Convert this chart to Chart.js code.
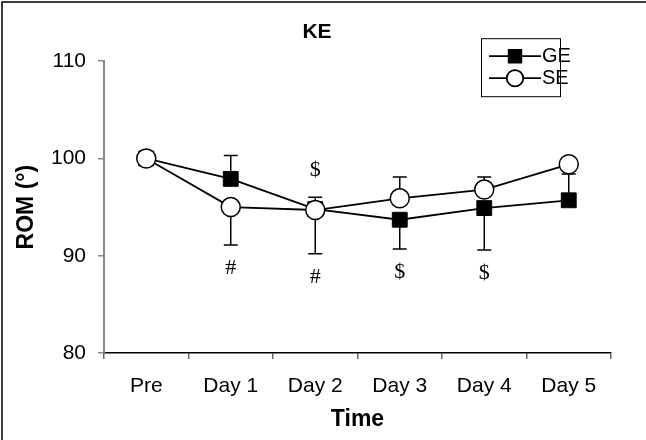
<!DOCTYPE html>
<html>
<head>
<meta charset="utf-8">
<script src="https://cdn.jsdelivr.net/npm/chart.js@4.4.0/dist/chart.umd.min.js"></script>
<style>
html, body { margin: 0; padding: 0; background: #fff; }
#wrap { width: 646px; height: 440px; }
</style>
</head>
<body>
<div id="wrap"><canvas id="romChart"></canvas></div>
<script>
// KE range of motion over time, GE vs SE
const timePoints = ['Pre', 'Day 1', 'Day 2', 'Day 3', 'Day 4', 'Day 5'];
const geMean = [100, 97.9, 94.8, 93.7, 94.9, 95.7];
const seMean = [100, 95.0, 94.7, 95.9, 96.8, 99.4];
// one-sided error bars as they appear (up / down)
const geErrUp = [0, 2.4, 1.2, 0, 0, 2.7];
const geErrDown = [0, 0, 0, 3.0, 4.3, 0];
const seErrUp = [0, 0, 0, 2.2, 1.3, 0];
const seErrDown = [0, 3.9, 4.5, 0, 0, 0];
const yTicks = [80, 90, 100, 110];
// significance marks
const marksBelow = ['', '#', '#', '$', '$', ''];
const marksAbove = ['', '', '$', '', '', ''];

const SANS = "'Liberation Sans', Arial, sans-serif";
const SERIF = "'Liberation Serif', 'Times New Roman', serif";
Chart.defaults.font.family = SANS;
Chart.defaults.color = '#000';

// error bars drawn under the lines and markers
const errorBars = {
  id: 'errorBars',
  beforeDatasetsDraw(chart) {
    const {ctx, scales: {x, y}} = chart;
    const sets = [[geMean, geErrUp, geErrDown], [seMean, seErrUp, seErrDown]];
    ctx.save();
    ctx.strokeStyle = '#000';
    ctx.lineWidth = 1.5;
    sets.forEach(([m, up, down]) => {
      m.forEach((v, i) => {
        const px = x.getPixelForValue(i);
        [[up[i], 1], [down[i], -1]].forEach(([e, dir]) => {
          if (!e) return;
          const y0 = y.getPixelForValue(v);
          const y1 = y.getPixelForValue(v + dir * e);
          ctx.beginPath();
          ctx.moveTo(px, y0); ctx.lineTo(px, y1);
          ctx.moveTo(px - 7, y1); ctx.lineTo(px + 7, y1);
          ctx.stroke();
        });
      });
    });
    ctx.restore();
  }
};

// # and $ marks, legend box, outer frame
const extras = {
  id: 'extras',
  afterDraw(chart) {
    const {ctx, scales: {x, y}, chartArea} = chart;
    ctx.save();
    ctx.fillStyle = '#000';
    ctx.font = '22px ' + SERIF;
    ctx.textAlign = 'center';
    ctx.textBaseline = 'alphabetic';
    timePoints.forEach((t, i) => {
      const px = x.getPixelForValue(i);
      const low = Math.min(geMean[i] - geErrDown[i], seMean[i] - seErrDown[i]);
      const high = Math.max(geMean[i] + geErrUp[i], seMean[i] + seErrUp[i]);
      if (marksBelow[i]) ctx.fillText(marksBelow[i], px, y.getPixelForValue(low) + 29);
      if (marksAbove[i]) ctx.fillText(marksAbove[i], px, y.getPixelForValue(high) - 21);
    });

    // legend
    const bx = chartArea.right - 130, by = chartArea.top - 23, bw = 79, bh = 58;
    ctx.fillStyle = '#fff';
    ctx.fillRect(bx, by, bw, bh);
    ctx.strokeStyle = '#000';
    ctx.lineWidth = 1;
    ctx.strokeRect(bx + 0.5, by + 0.5, bw, bh);
    chart.data.datasets.forEach((ds, k) => {
      const ry = by + 18 + k * 22;
      ctx.beginPath();
      ctx.strokeStyle = '#000';
      ctx.lineWidth = ds.borderWidth;
      ctx.moveTo(bx + 8, ry); ctx.lineTo(bx + 60, ry);
      ctx.stroke();
      Chart.helpers.drawPoint(ctx, {
        pointStyle: ds.pointStyle,
        radius: ds.pointRadius * 0.85,
        borderWidth: ds.pointBorderWidth
      }, bx + 34, ry);
      ctx.fillStyle = ds.pointBackgroundColor;
      ctx.strokeStyle = ds.pointBorderColor;
      ctx.lineWidth = ds.pointBorderWidth;
      ctx.fill();
      ctx.stroke();
      ctx.fillStyle = '#000';
      ctx.font = '20px ' + SANS;
      ctx.textAlign = 'left';
      ctx.textBaseline = 'middle';
      ctx.fillText(ds.label, bx + 61, ry);
    });

    // frame
    ctx.strokeStyle = '#000';
    ctx.lineWidth = 1.5;
    ctx.beginPath();
    ctx.moveTo(2, 440); ctx.lineTo(2, 2); ctx.lineTo(646, 2);
    ctx.stroke();
    ctx.restore();
  }
};

new Chart(document.getElementById('romChart'), {
  type: 'line',
  data: {
    labels: timePoints,
    datasets: [
      {
        label: 'GE',
        data: geMean,
        borderColor: '#000',
        borderWidth: 1.8,
        pointStyle: 'rect',
        pointRadius: 10.5,
        pointBackgroundColor: '#000',
        pointBorderColor: '#000',
        pointBorderWidth: 1,
        order: 1,
        clip: false
      },
      {
        label: 'SE',
        data: seMean,
        borderColor: '#000',
        borderWidth: 1.8,
        pointStyle: 'circle',
        pointRadius: 9.5,
        pointBackgroundColor: '#fff',
        pointBorderColor: '#000',
        pointBorderWidth: 1.5,
        order: 0,
        clip: false
      }
    ]
  },
  options: {
    responsive: true,
    maintainAspectRatio: false,
    animation: false,
    layout: { padding: { left: 23, right: 35, top: 0, bottom: 0 } },
    plugins: {
      legend: { display: false },
      tooltip: { enabled: false },
      title: {
        display: true,
        text: 'KE',
        color: '#000',
        font: { size: 21, weight: 'bold' },
        padding: { top: 20, bottom: 16 }
      }
    },
    scales: {
      x: {
        offset: true,
        grid: { offset: true, drawOnChartArea: false, tickLength: 6, color: '#666', lineWidth: 1.5 },
        border: { color: '#000', width: 1.5 },
        ticks: { color: '#000', font: { size: 21 }, padding: 15, maxRotation: 0, autoSkip: false },
        title: {
          display: true,
          text: 'Time',
          color: '#000',
          font: { size: 23, weight: 'bold' },
          padding: { top: 0, bottom: 7 }
        },
        afterFit: s => { s.height = 87; }
      },
      y: {
        min: 80,
        max: 110,
        afterBuildTicks: s => { s.ticks = yTicks.map(v => ({ value: v })); },
        grid: { drawOnChartArea: false, tickLength: 6, color: '#888', lineWidth: 1.5 },
        border: { color: '#888', width: 2 },
        ticks: { color: '#000', font: { size: 21 }, padding: 12 },
        title: {
          display: true,
          text: 'ROM (°)',
          color: '#000',
          font: { size: 23, weight: 'bold' },
          padding: { top: -10, bottom: 0 }
        },
        afterFit: s => { s.width = 81; }
      }
    }
  },
  plugins: [errorBars, extras]
});
</script>
</body>
</html>
